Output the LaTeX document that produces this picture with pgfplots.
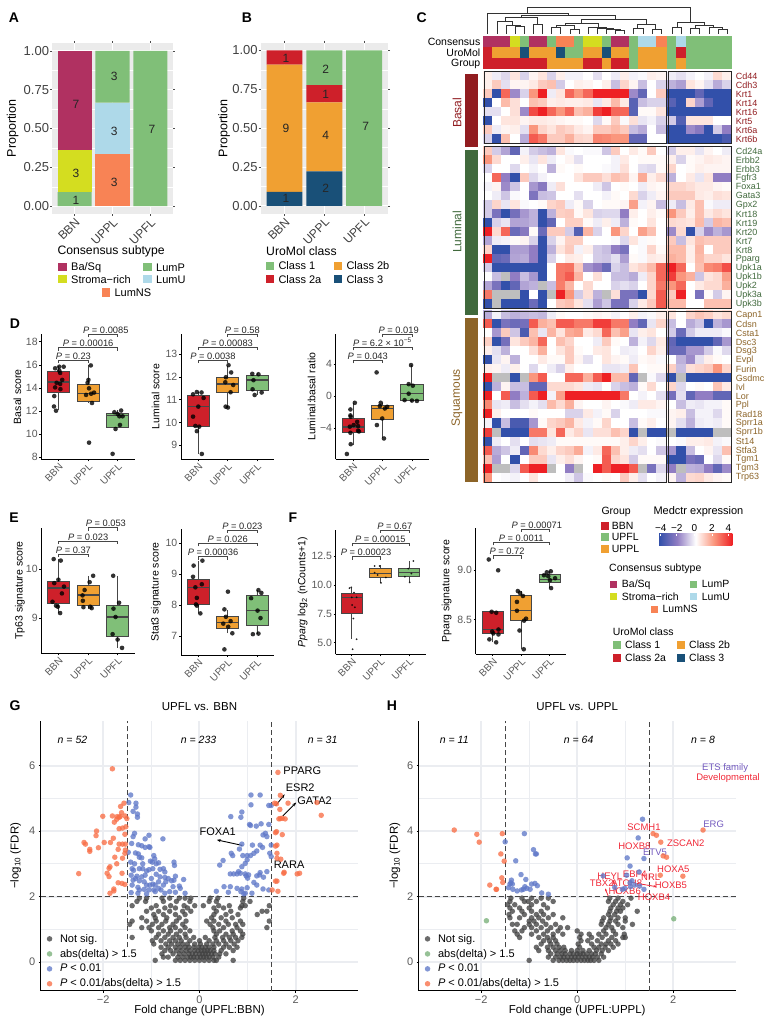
\documentclass[border=0pt]{standalone}
\usepackage{fontspec}
\setmainfont{Liberation Sans}
\usepackage{pgfplots}
\usepackage{pgfplotstable}
\pgfplotsset{compat=1.18}
\usepgfplotslibrary{statistics}
\usetikzlibrary{arrows.meta}
\newcommand\fz[1]{\fontsize{#1}{#1}\selectfont}

\definecolor{basq}{RGB}{176,49,97}
\definecolor{strm}{RGB}{212,221,32}
\definecolor{lump}{RGB}{128,191,120}
\definecolor{lumu}{RGB}{174,217,233}
\definecolor{lumns}{RGB}{248,131,85}
\definecolor{cred}{RGB}{206,32,42}
\definecolor{corg}{RGB}{240,160,50}
\definecolor{cnav}{RGB}{25,80,120}
\definecolor{dk}{RGB}{70,70,70}
\definecolor{tk}{RGB}{90,90,90}
\definecolor{gc}{RGB}{235,237,241}
\definecolor{vorg}{RGB}{248,110,70}
\definecolor{vblu}{RGB}{95,120,200}
\definecolor{vgre}{RGB}{120,175,120}
\definecolor{vgry}{RGB}{65,65,65}
\definecolor{hmb}{RGB}{50,80,170}
\definecolor{hmp}{RGB}{145,125,195}
\definecolor{hmo}{RGB}{250,150,125}
\definecolor{hmr}{RGB}{238,32,36}
\definecolor{lblB}{RGB}{145,28,32}
\definecolor{lblL}{RGB}{64,105,60}
\definecolor{lblS}{RGB}{140,100,40}
\definecolor{devr}{RGB}{240,40,55}
\definecolor{etsp}{RGB}{115,90,190}

\tikzset{vn/.style={font=\fz{10.5}\itshape,anchor=center}}
\pgfplotsset{
  colormap={hm}{[1cm] rgb255(0cm)=(50,80,170); rgb255(4cm)=(145,125,195); rgb255(8cm)=(255,255,255);
    rgb255(12cm)=(250,150,125); rgb255(16cm)=(238,32,36); rgb255(17cm)=(238,32,36); rgb255(18cm)=(190,190,190)},
  colormap={ann}{[1cm] rgb255(0cm)=(176,49,97); rgb255(1cm)=(212,221,32); rgb255(2cm)=(128,191,120);
    rgb255(3cm)=(174,217,233); rgb255(4cm)=(248,131,85); rgb255(5cm)=(206,32,42);
    rgb255(6cm)=(240,160,50); rgb255(7cm)=(25,80,120)},
  stk/.style={scale only axis,ybar stacked,bar width=.9,xmin=.4,xmax=3.6,ymin=-.05,ymax=1.05,
    xtick={1,2,3},xticklabels={BBN,UPPL,UPFL},ytick={0,.25,.5,.75,1},
    yticklabels={0.00,0.25,0.50,0.75,1.00},minor y tick num=1,
    axis background/.style={fill=black!8},axis line style={draw=none},
    grid=both,major grid style={white,line width=.9pt},minor grid style={white,line width=.5pt},
    tick style={black!70,line width=.5pt},major tick length=2pt,minor tick length=0pt,tick align=outside,
    y tick label style={font=\fz{13},text=black!75,inner sep=.8pt},
    x tick label style={font=\fz{12},text=black!75,rotate=45,anchor=north east,inner sep=1pt},
    ylabel style={font=\fz{12.5}},clip=false},
  bxp/.style={scale only axis,axis lines=left,axis line style={-,line width=.9pt},
    xmin=.41,xmax=3.58,xtick={1,2,3},xticklabels={BBN,UPPL,UPFL},
    tick style={black,line width=.7pt},major tick length=2pt,tick align=outside,
    /pgf/number format/assume math mode=true,
    y tick label style={font=\fz{10.5},text=tk,inner sep=1.5pt},
    x tick label style={font=\fz{10},text=tk,rotate=45,anchor=north east,inner sep=1pt},
    ylabel style={font=\fz{10.5}},clip=false,
    boxplot/every median/.style={line width=1.4pt}},
  heat/.style={scale only axis,width=248.2pt,xmin=0,xmax=27.18,ymin=0,y dir=reverse,
    axis line style={draw=none},xtick=\empty,major tick length=0pt,
    yticklabel pos=right,colormap name=hm,point meta min=-4,point meta max=5,clip=false,
    y tick label style={font=\fz{9},anchor=west,inner sep=0pt,xshift=4pt}},
  cellp/.style={scatter,only marks,mark=square*,mark size=4.6pt,point meta=explicit,
    scatter/use mapped color={draw=mapped color,fill=mapped color},mark options={line width=0pt}},
  vm/.style={only marks,mark=*,mark size=2.75pt,mark options={fill=#1,draw opacity=0,fill opacity=.78,line width=0pt}},
  vol/.style={scale only axis,height=269.7pt,axis lines=left,axis line style={-,line width=1.3pt},
    xmin=-3.3,xmax=3.3,ymin=-.876,ymax=7.36,xtick={-2,0,2},xticklabels={−2,0,2},ytick={0,2,4,6},
    /pgf/number format/assume math mode=true,
    grid=both,major grid style={gc,line width=2pt},minor grid style={gc,line width=1pt},minor tick num=1,
    minor tick length=0pt,major tick length=2pt,tick align=outside,tick style={black,line width=.9pt},
    tick label style={font=\fz{11},text=tk},
    title style={font=\fz{11.5},at={(.5,1)},yshift=1pt},
    xlabel style={font=\fz{11.5},at={(axis description cs:.5,-.075)},anchor=center},
    ylabel style={font=\fz{11.5}},clip=false,
    legend cell align=left,
    legend style={at={(axis description cs:.0186,.0)},anchor=south west,draw=none,fill=none,font=\fz{11},
      inner sep=0pt,row sep=1.6pt},
    legend image code/.code={\draw[##1] plot coordinates {(0.12cm,0cm)};\node[inner sep=0pt,minimum width=7.8pt,minimum height=1pt] at (3.9pt,0pt) {};}},
  dk dash/.style={dk,line width=.9pt,dash pattern=on 5pt off 3pt}
}
\newcommand\bx[7]{\addplot[boxplot prepared={draw direction=y,draw position=#1,lower whisker=#2,lower quartile=#3,median=#4,upper quartile=#5,upper whisker=#6,box extend=.75,whisker extend=0},fill=#7,draw=dk,line width=.9pt,forget plot] coordinates {};}
\newcommand\pts[1]{\addplot[only marks,mark=*,mark size=2.3pt,mark options={fill=black,draw opacity=0,fill opacity=.8,line width=0pt},forget plot] coordinates {#1};}
\newcommand\spts[1]{\addplot[only marks,mark=*,mark size=1pt,mark options={fill=black,draw opacity=0,fill opacity=.85,line width=0pt},forget plot] coordinates {#1};}
\newcommand\pbr[5]{\draw[dk,line width=.5pt] ([yshift=-3pt]axis cs:#1,#3) -- (axis cs:#1,#3) -- (axis cs:#2,#3) -- ([yshift=-3pt]axis cs:#2,#3);
  \node[anchor=south,inner sep=.6pt,font=\fz{9.3},text=black!85] at (axis cs:#4,#3) {\textit{P} = #5};}

% heat map values, columns are samples, value 5 = no data
\pgfplotstableread[header=false]{
.3 -.3 -.6 .5 -.7 .2 .5 -.7 .3 -.2 -.2 0 -.5 0 -.3 .3 -.2 -.1 .3 .2 -.3 -.5 -.2 0 -.2 .7 .3
.3 1 -.5 .2 .2 .4 1 1.2 -.8 0 .3 .2 0 .3 -1 .8 .2 -1 0 -.7 -1.2 -1.5 .5 .2 -.5 -1.3 -.7
1 -4 2.8 -1.8 -.7 2 4 -.3 .5 2.8 2 2.8 4 4 4 4 -1.8 -3 0 1 -4 -4 -4 -3 -4 -4 -4
-4 0 1.3 .6 0 1.2 1 .3 .4 .3 .3 .4 -.4 .4 1.3 .4 -3.2 -1 -.7 -.7 -3.2 -4 .8 -1.5 -3 -4 -4
-.5 -.5 0 .6 -1.8 3.3 4 2.8 2 2.8 1.2 1.5 3.5 4 2.8 2.8 -3.2 .1 .1 .5 -4 -4 -4 -4 -4 -4 -4
-4 0 .5 .5 .2 .4 .4 .3 .2 .1 .1 0 -.6 .1 1 -.1 .6 -.4 -.2 -.7 -.8 -3.3 .5 .5 .5 0 0
1 -.3 .2 .3 -.5 2 .8 .5 1 .8 .4 .2 1 1 1.3 1 -1 -1.3 0 -1 -4 -4 -1.8 -2.2 -4 -.8 -2
-.7 -4 1.2 0 -1.3 3 2.5 1 1 1.5 .8 .7 2.3 2.2 2 2 -3 -3 0 0 -4 -4 -4 -4 -4 -4 -3.5
}\hBasal
\pgfplotstableread[header=false]{
1 -.8 -1.4 -3 -.2 -.8 -1 -1.2 .5 -.1 0 -.1 -.1 -.9 1 0 .4 .1 1 0 -.8 .3 .3 -.4 .2 0 -.3
2 .7 0 0 .3 -.4 .5 -.3 0 .2 -.5 0 0 0 -.2 .4 0 .1 .1 .1 .3 -.7 .1 .2 .4 .3 .2
-.7 0 0 -.6 0 -.2 0 -1.2 .1 0 .1 0 0 -.1 -.2 .6 0 -.5 -.6 .1 .8 0 .1 .3 .2 .2 .2
0 2.8 -2 -4 1 -.6 -.2 0 0 0 .5 1 1 .6 1.2 1 .2 1.6 .3 .7 -1.2 0 .4 -.4 .5 -2 -2
-.2 .2 -1.8 -.9 0 -1.6 -2.2 -.3 .6 0 0 0 -.3 -.9 0 .1 0 -.3 .2 .1 .8 .8 .6 .4 .4 .2 .1
0 -.3 -.9 -.1 0 -2.4 -1 -.9 0 0 -.5 0 0 -.2 .1 0 .7 -.7 -.3 .2 1 1 1 .4 .3 .6 .5
-.8 .8 -.4 .5 -.1 0 .1 .8 1 -.3 .1 -.7 0 .1 .1 .2 1.8 -.2 .2 -1 -.3 -1 .4 1.2 -.1 -.3 -.3
-.8 -2.5 -4 -2.6 -1.6 -1.2 -4 -1.2 .9 1 .1 .5 -.7 -.6 -.6 -2 .3 0 .3 .1 2 1 .3 1.2 .4 .7 .5
-4 -.7 -.4 -1.4 -1.4 -1.2 -4 -3 0 .9 .9 .1 -.3 .3 -.3 -1.2 .1 0 .5 0 .7 .6 .5 1.3 -.8 1.4 1.2
4 .7 2.8 -2.8 -2.2 .1 -2.8 1 1 -.8 -3.3 1.4 -.7 0 2 .8 0 1.8 1.2 0 -1.8 .7 -4 -.7 -1.8 -1.2 -1.6
-1.4 -.3 -.2 .1 .2 -.7 -4 -.7 .2 .9 .9 0 0 0 -.1 -.6 .5 -.1 .1 0 1 -1 .5 1.2 1 1 1
.8 -4 -4 -1.5 -1.5 -2 -4 -1.2 .5 1 -.2 .3 -.8 -1 -2 -2.5 0 -.1 .8 .1 1.3 1.3 .3 1.4 0 1 1
4 -3 -2.8 -1.4 -1.3 -2 -4 -.7 0 .4 .3 0 -.8 -.9 -.5 -1.5 .1 -.1 .4 .3 1.5 1.3 .3 1.3 .8 .8 .5
-.8 -4 -4 -4 -4 -4 -4 0 2.5 2.6 1 -1.7 -2 -2.8 -.7 -1 .5 .8 1.3 2.8 4 2.8 0 1.2 2.2 2.4 3.2
0 -1 5 -2 -1 -1.6 -4 0 2.5 3 1.4 0 .6 0 -1 -1 -1.3 -.3 .8 2.8 3.5 2 1.5 -.9 .5 .7 1.8
-1.4 -2.5 -4 -3 -1.4 -1.2 5 -1 2.4 1.4 0 .7 0 0 -.7 -.5 -.7 0 .8 2.5 2 2.8 0 .4 .7 .7 1.5
2.5 5 5 5 -4 0 -4 5 4 2 -.8 .6 -1.2 5 .6 -2.5 -2.5 -4 .7 3 1 4 0 -2.5 .1 -.8 .2
-4 5 -4 -4 -4 -2.8 -4 0 1 1.2 .5 -.5 -1.5 -.9 -2.5 -2.5 -.7 .4 1 3 1.3 1.3 0 0 1.2 1.2 1.2
}\hLuminal
\pgfplotstableread[header=false]{
-1.3 -.2 -1 -1.2 -1.1 -1 -1.1 -.3 .1 0 0 .1 .2 .1 -.2 0 .3 -.2 -.1 .3 .5 0 .8 1.1 .9 .5 .7
3 -4 -2.5 -2.8 -2.6 3 1.5 1.2 3 3 2.5 2.5 3.5 3.5 2.5 2.5 -2 -3 -.4 .8 -1 0 -1.3 -.9 -4 -1.2 -1.6
0 -1.6 1 -.9 -3.5 1.2 -.4 1.4 .5 1.6 1.8 .4 .7 2.8 1.2 1.8 -.4 .3 .5 0 -.8 -2.8 -.8 -.3 -.3 -.3 -.1
.9 -4 -2.6 .5 1 1.4 2.8 0 1.2 .8 0 0 -.3 1 .1 0 -1.2 -.2 -.6 .4 -3 -4 -4 -4 -4 -3 -1.6
.3 -.5 -1.2 0 0 .6 1.5 0 .5 1 .1 0 .4 .5 0 -.3 -.2 0 .8 .3 -2.8 -2.8 -1.6 -1.6 -.8 -.1 -.6
-4 -.4 .2 -1.2 0 0 .4 .1 .1 1 .2 -.5 0 .5 .2 .1 -.3 .1 .2 -.1 0 -1.2 -1.8 -.5 .3 .1 0
.3 .2 -.3 .3 0 -.6 0 -.3 -.7 .3 0 0 0 -.4 -.4 -.3 1.1 0 .1 .1 .9 -1 .6 .8 1 2 .8
4 5 5 -4 5 2 3 0 0 2.8 2.8 1.5 3 4 1.3 1.3 -3 5 -.1 -.6 -4 5 -4 -4 -4 -4 -4
-4 -1.2 .2 -1 -1 -3 -3 .7 .7 .7 .5 -.3 -.4 0 -.7 -1 -1.2 .1 .7 0 .8 -.6 0 .1 0 1.1 .4
4 0 3 -2 -1.2 3 4 -.2 1.8 4 4 4 4 4 4 2.5 0 -.2 0 -.5 -2.6 -.5 -3 -2 -2 -3 -3
2.2 -.4 -.3 -1 -.5 -.2 -.5 1.3 .7 1.5 .2 0 0 .2 0 -.1 -.3 .4 .4 .2 0 -1 -.3 -.4 -.2 -.2 .1
4 .3 0 0 0 .1 0 0 0 -.7 -.7 .4 -.2 .1 -.7 0 0 0 -.1 -.1 .2 .3 -1 -.2 -.2 -.6 .1
-.2 -4 -1 -3.5 -3.5 -1.6 .1 .8 1 1.4 .4 -.2 .1 .8 0 0 -1 .1 .3 0 .2 -.5 -1.2 -.3 -.2 -.3 .1
3.5 5 -4 -4 -4 2.5 2.5 .5 2.8 .4 .8 -.4 .6 .6 1.2 .8 -4 5 -4 -4 5 -4 -4 -4 -4 5 5
-4 -.3 0 -.5 0 -.5 -.4 -.3 .1 .1 .1 .1 .1 .1 .1 .3 .8 .3 0 -.1 0 -.1 .3 .3 .4 -.2 -.1
3 -1.3 -.9 -.3 -3 2.2 .7 .3 .8 1 1.6 -.2 .4 2.8 1.2 .3 -.3 -.5 0 -.9 -1.6 -4 -1 0 .2 -.4 1.2
1.2 -1.5 0 -4 0 1 1 -.4 .3 .6 .2 0 .1 3 .8 .5 -.8 .1 .1 .1 -4 -4 -2.5 -2.8 0 -.6 .1
4 5 5 -.6 3 4 4 5 0 -2 5 0 4 3 4 4 3 5 -2.5 -.6 -2 5 -1.2 -1.3 -2 -3 -1.8
2 0 -.1 -.2 0 .5 0 0 0 -.3 -.9 -.1 0 .1 0 1 .3 -.5 0 -.2 .2 -1.2 .7 .8 .4 .2 .1
}\hSquamous
\pgfplotstableread[header=false]{
0 0 0 1 2 0 0 2 4 4 2 1 1 2 0 0 2 3 3 4 2 3 2 2 2 2 2
5 6 6 6 7 6 6 6 7 2 2 6 6 7 6 6 2 6 6 6 2 5 2 2 2 2 2
5 5 5 5 5 5 5 6 6 6 6 5 5 6 5 5 2 6 6 6 2 6 2 2 2 2 2
}\hAnn

\pgfdeclarehorizontalshading{hmbar}{100bp}{color(0bp)=(hmb); color(25bp)=(hmb); color(37.5bp)=(hmp); color(50bp)=(white); color(62.5bp)=(hmo); color(75bp)=(hmr); color(100bp)=(hmr)}

\begin{document}
\begin{tikzpicture}[x=1pt,y=1pt]
\useasboundingbox (0,0) rectangle (764,1030);

% ---------- A
\begin{axis}[stk,at={(52pt,816pt)},anchor=south west,width=121pt,height=171pt,
  ylabel={Proportion},ylabel style={at={(axis description cs:-.325,.5)},anchor=center}]
\addplot[fill=lumns,draw=none] coordinates {(1,0)(2,.3333)(3,0)};
\addplot[fill=lumu,draw=none] coordinates {(1,0)(2,.3333)(3,0)};
\addplot[fill=lump,draw=none] coordinates {(1,.0909)(2,.3334)(3,1)};
\addplot[fill=strm,draw=none] coordinates {(1,.2727)(2,0)(3,0)};
\addplot[fill=basq,draw=none] coordinates {(1,.6364)(2,0)(3,0)};
\end{axis}

% ---------- B
\begin{axis}[stk,at={(260.7pt,816.3pt)},anchor=south west,width=127.3pt,height=171pt,
  ylabel={Proportion},ylabel style={at={(axis description cs:-.288,.5)},anchor=center}]
\addplot[fill=cnav,draw=none] coordinates {(1,.0909)(2,.2222)(3,0)};
\addplot[fill=corg,draw=none] coordinates {(1,.8182)(2,.4444)(3,0)};
\addplot[fill=cred,draw=none] coordinates {(1,.0909)(2,.1111)(3,0)};
\addplot[fill=lump,draw=none] coordinates {(1,0)(2,.2223)(3,1)};
\end{axis}

% ---------- C annotation rows
\begin{axis}[scale only axis,at={(483.5pt,961pt)},anchor=south west,width=248.2pt,height=33pt,
  xmin=0,xmax=27.18,ymin=0,ymax=3,y dir=reverse,axis line style={draw=none},xtick=\empty,
  ytick={.5,1.5,2.5},yticklabels={Consensus,UroMol,Group},major tick length=0pt,
  y tick label style={font=\fz{10.5},inner sep=0pt,xshift=-3pt},
  colormap name=ann,point meta min=0,point meta max=7,clip=false]
\pgfplotsinvokeforeach{0,...,26}{
  \addplot[cellp] table[x expr=#1+.5+(#1>19)*.18,y expr=\coordindex+.5,meta index=#1] {\hAnn};
}
\end{axis}

% ---------- C heat blocks
\begin{axis}[heat,at={(483.5pt,886.2pt)},anchor=south west,height=72.3pt,ymax=8,
  ytick={.5,1.5,...,7.5},yticklabels={Cd44,Cdh3,Krt1,Krt14,Krt16,Krt5,Krt6a,Krt6b},
  y tick label style={text=lblB}]
\pgfplotsinvokeforeach{0,...,26}{
  \addplot[cellp] table[x expr=#1+.5+(#1>19)*.18,y expr=\coordindex+.5,meta index=#1] {\hBasal};
}
\end{axis}
\begin{axis}[heat,at={(483.5pt,721.4pt)},anchor=south west,height=162.3pt,ymax=18,
  ytick={.5,1.5,...,17.5},yticklabels={Cd24a,Erbb2,Erbb3,Fgfr3,Foxa1,Gata3,Gpx2,Krt18,Krt19,Krt20,Krt7,Krt8,Pparg,Upk1a,Upk1b,Upk2,Upk3a,Upk3b},
  y tick label style={text=lblL}]
\pgfplotsinvokeforeach{0,...,26}{
  \addplot[cellp] table[x expr=#1+.5+(#1>19)*.18,y expr=\coordindex+.5,meta index=#1] {\hLuminal};
}
\end{axis}
\begin{axis}[heat,at={(483.5pt,547.8pt)},anchor=south west,height=171.3pt,ymax=19,
  ytick={.5,1.5,...,18.5},yticklabels={Capn1,Cdsn,Csta1,Dsc3,Dsg3,Evpl,Furin,Gsdmc,Ivl,Lor,Ppl,Rad18,Sprr1a,Sprr1b,St14,Stfa3,Tgm1,Tgm3,Trp63},
  y tick label style={text=lblS}]
\pgfplotsinvokeforeach{0,...,26}{
  \addplot[cellp] table[x expr=#1+.5+(#1>19)*.18,y expr=\coordindex+.5,meta index=#1] {\hSquamous};
}
\end{axis}

% ---------- D
\begin{axis}[bxp,at={(41.3pt,570.7pt)},anchor=south west,width=93.4pt,height=125.3pt,ymin=7.83,ymax=18.67,
  ytick={8,10,...,18},ylabel={Basal score},ylabel style={at={(axis description cs:-.257,.5)},anchor=center}]
\bx{1}{12.1}{13.6}{14.5}{15.4}{15.9}{cred}
\bx{2}{12.7}{12.8}{13.5}{14.3}{16}{corg}
\bx{3}{10.5}{10.6}{11.6}{11.8}{12.1}{lump}
\pts{(.88,15.7)(1.02,15.84)(1.17,15.84)(1.02,15.5)(1.05,15.3)(1.12,14.7)(.93,14.45)(1.05,14.35)(.88,14.05)(1.06,13.9)(.85,13.3)(.84,12.4)(.91,12.03)}
\pts{(2.09,15.95)(2.01,14.7)(1.98,14.45)(2.03,13.97)(1.93,13.4)(2.1,13.5)(2.2,13.6)(2.13,12.7)(2.03,9.27)}
\pts{(2.89,11.9)(3.12,12.05)(3,11.75)(3.06,11.55)(3.17,11.55)(3.08,10.8)(2.93,10.45)(2.83,8.3)}
\pbr{1}{2}{16.4}{1.5}{0.23}\pbr{1}{3}{17.5}{2}{0.00016}\pbr{2}{3}{18.66}{2.6}{0.0085}
\end{axis}
\begin{axis}[bxp,at={(181pt,570.7pt)},anchor=south west,width=93pt,height=125.3pt,ymin=8.385,ymax=13.89,
  ytick={9,...,13},ylabel={Luminal score},ylabel style={at={(axis description cs:-.272,.5)},anchor=center}]
\bx{1}{8.62}{9.82}{10.7}{11.21}{11.35}{cred}
\bx{2}{10.63}{11.33}{11.7}{11.99}{12.5}{corg}
\bx{3}{11.2}{11.4}{11.87}{12.08}{12.16}{lump}
\pts{(.95,11.34)(1.11,11.32)(.82,11.24)(1.18,11.08)(1,10.7)(.82,10.26)(.9,9.85)(1.03,9.82)(.95,9.62)(1.12,8.62)}
\pts{(2.03,12.52)(2.12,12.2)(1.94,11.99)(1.92,11.77)(2.19,11.65)(2.1,11.33)(1.93,10.7)(2.01,10.66)}
\pts{(2.84,12.14)(3.05,12.12)(2.88,11.86)(2.85,11.46)(3.16,11.32)(2.92,11.21)}
\pbr{1}{2}{12.74}{1.5}{0.0038}\pbr{1}{3}{13.31}{2}{0.00083}\pbr{2}{3}{13.89}{2.5}{0.58}
\end{axis}
\begin{axis}[bxp,at={(335.7pt,570.7pt)},anchor=south west,width=93.3pt,height=125.3pt,ymin=-7.86,ymax=7.73,
  ytick={-4,0,4},yticklabels={−4,0,4},ylabel={Luminal:basal ratio},ylabel style={at={(axis description cs:-.257,.5)},anchor=center}]
\bx{1}{-6.1}{-4.5}{-3.82}{-2.74}{-.83}{cred}
\bx{2}{-5.27}{-2.9}{-1.54}{-1.16}{-.83}{corg}
\bx{3}{-.7}{-.58}{.33}{1.49}{3.86}{lump}
\pts{(1.06,-.83)(.91,-1.66)(.92,-2.57)(1.14,-3.2)(1.17,-3.73)(.89,-3.8)(1.17,-4.3)(.91,-4.56)(.92,-5.98)(.79,-7.2)(1.02,-3.6)(1.2,-4.4)(.91,-2.4)}
\pts{(1.8,2.95)(1.94,-.83)(1.91,-1.24)(2.16,-1.33)(2.08,-1.54)(1.99,-2.78)(1.81,-3.6)(2.05,-5.27)}
\pts{(2.97,3.86)(2.89,1.49)(3.03,1.3)(2.75,-.5)(2.89,.3)(3.17,-.6)(3,-.55)}
\pbr{1}{2}{4.44}{1.5}{0.043}
\draw[dk,line width=.5pt] ([yshift=-3pt]axis cs:1,6.06) -- (axis cs:1,6.06) -- (axis cs:3,6.06) -- ([yshift=-3pt]axis cs:3,6.06);
\node[anchor=south,inner sep=.6pt,font=\fz{9.3},text=black!85] at (axis cs:2,6.06) {\textit{P} = 6.2 × 10\textsuperscript{−5}};
\pbr{2}{3}{7.72}{2.55}{0.019}
\end{axis}

% ---------- E
\begin{axis}[bxp,at={(41.3pt,376.7pt)},anchor=south west,width=93.4pt,height=125.6pt,ymin=8.28,ymax=10.84,
  ytick={9,10},ylabel={Tp63 signature score},ylabel style={at={(axis description cs:-.228,.5)},anchor=center}]
\bx{1}{9.1}{9.3}{9.61}{9.75}{10.2}{cred}
\bx{2}{9.19}{9.25}{9.47}{9.66}{9.86}{corg}
\bx{3}{8.39}{8.62}{9.02}{9.26}{9.86}{lump}
\pts{(.83,10.2)(1.07,10.17)(.99,9.78)(.85,9.71)(1.11,9.5)(1.18,9.64)(.79,9.33)(.91,9.25)(.97,9.23)(1.05,9.1)}
\pts{(2.17,9.86)(2.05,9.73)(1.88,9.57)(1.81,9.46)(1.82,9.35)(2.07,9.23)(1.84,9.22)(2.12,9.2)}
\pts{(2.85,9.86)(3.05,9.31)(2.86,9.19)(2.93,9.02)(2.83,8.67)(3,8.56)(3.15,8.39)}
\pbr{1}{2}{10.3}{1.5}{0.37}\pbr{1}{3}{10.57}{2}{0.023}\pbr{2}{3}{10.84}{2.6}{0.053}
\end{axis}
\begin{axis}[bxp,at={(181pt,375pt)},anchor=south west,width=93pt,height=125.7pt,ymin=6.39,ymax=10.44,
  ytick={7,...,10},ylabel={Stat3 signature score},ylabel style={at={(axis description cs:-.269,.5)},anchor=center}]
\bx{1}{7.73}{8.03}{8.57}{8.82}{9.43}{cred}
\bx{2}{7.09}{7.24}{7.44}{7.62}{7.84}{corg}
\bx{3}{7.06}{7.33}{7.82}{8.31}{8.48}{lump}
\pts{(1.14,9.43)(.84,9.27)(.82,8.91)(.9,8.57)(1.12,8.67)(.95,8.23)(.92,8.02)(.95,7.98)(1.07,7.73)}
\pts{(2.01,8.43)(1.89,7.86)(1.94,7.62)(2.1,7.48)(1.85,7.4)(2.02,7.3)(2.16,7.09)(1.89,6.57)}
\pts{(3.05,8.48)(3.15,8.39)(2.8,8.22)(3.02,7.82)(3.12,7.58)(2.86,7.06)(3.05,7.08)}
\pbr{1}{2}{9.56}{1.5}{0.00036}\pbr{1}{3}{9.99}{2}{0.026}\pbr{2}{3}{10.42}{2.5}{0.023}
\end{axis}

% ---------- F
\begin{axis}[bxp,at={(335.7pt,375.7pt)},anchor=south west,width=90pt,height=124.3pt,xmin=.44,xmax=3.58,ymin=3.99,ymax=14.79,
  ytick={5,7.5,10,12.5},yticklabels={5.0,7.5,10.0,12.5},
  ylabel={\textit{Pparg} log\textsubscript{2} (nCounts+1)},ylabel style={at={(axis description cs:-.367,.5)},anchor=center}]
\bx{1}{5.3}{7.55}{8.91}{9.26}{9.74}{cred}
\bx{2}{10.2}{10.65}{11.02}{11.43}{11.72}{corg}
\bx{3}{10.24}{10.79}{11.08}{11.43}{12.12}{lump}
\spts{(.92,9.74)(.98,9.8)(1.08,9.35)(1,8.94)(1.17,8.94)(1.01,8.27)(1.11,8.07)(1.06,7.1)(1.17,5.3)(1.03,4.43)}
\spts{(1.8,11.66)(1.97,11.66)(1.8,11.08)(2.02,10.2)(2.19,10.67)(1.9,10.88)}
\spts{(3.15,12.09)(2.97,11.43)(2.85,10.73)(3.02,10.24)(3.08,11)}
\pbr{1}{2}{12.47}{1.5}{0.00023}\pbr{1}{3}{13.63}{2}{0.00015}\pbr{2}{3}{14.79}{2.5}{0.67}
\end{axis}
\begin{axis}[bxp,at={(475.7pt,376pt)},anchor=south west,width=90.6pt,height=125.7pt,xmin=.4,xmax=3.585,ymin=8.152,ymax=9.426,
  ytick={8.5,9},yticklabels={8.5,9.0},ylabel={Pparg signature score},ylabel style={at={(axis description cs:-.32,.5)},anchor=center}]
\bx{1}{8.27}{8.36}{8.4}{8.58}{8.58}{cred}
\bx{2}{8.2}{8.49}{8.59}{8.75}{8.79}{corg}
\bx{3}{8.82}{8.875}{8.91}{8.96}{8.99}{lump}
\pts{(.86,9.11)(1.19,9)(.96,8.58)(1.12,8.57)(.98,8.38)(1.2,8.4)(.88,8.3)(1.2,8.35)(1.12,8.27)(1.02,8.36)}
\pts{(1.88,8.79)(1.96,8.77)(2.06,8.74)(1.85,8.68)(1.85,8.59)(2.17,8.51)(2.1,8.49)(1.94,8.39)(2.09,8.2)}
\pts{(3.04,8.99)(2.9,8.98)(2.8,8.95)(2.95,8.94)(3.19,8.92)(3.01,8.9)(3.05,8.82)}
\pbr{1}{2}{9.149}{1.5}{0.72}\pbr{1}{3}{9.284}{2}{0.0011}\pbr{2}{3}{9.419}{2.55}{0.00071}
\end{axis}

% ---------- G
\begin{axis}[vol,at={(40.7pt,39.3pt)},anchor=south west,width=317.6pt,
  title={UPFL vs. BBN},xlabel={Fold change (UPFL:BBN)},
  ylabel={−log\textsubscript{10} (FDR)},ylabel style={at={(axis description cs:-.079,.5)},anchor=center}]
\addlegendimage{vm=vgry}
\addlegendentry{Not sig.}
\addlegendimage{vm=vgre}
\addlegendentry{abs(delta) > 1.5}
\addlegendimage{vm=vblu}
\addlegendentry{\textit{P} < 0.01}
\addlegendimage{vm=vorg}
\addlegendentry{\textit{P} < 0.01/abs(delta) > 1.5}
\addplot[vm=vgry,forget plot] coordinates {
(-.92,.05)(-.5,.05)(-.4,.05)(-.3,.05)(-.2,.05)(-.1,.05)(0,.05)(.1,.05)(.2,.05)(.3,.05)(.35,.05)(.7,.05)
(-.75,.15)(-.65,.15)(-.45,.15)(-.35,.15)(-.25,.15)(-.18,.15)(-.12,.15)(-.05,.15)(.02,.15)(.08,.15)(.14,.15)(.2,.15)(.28,.15)(.4,.15)
(-.78,.25)(-.55,.25)(-.42,.25)(-.32,.25)(-.22,.25)(-.15,.25)(-.08,.25)(0,.25)(.06,.25)(.12,.25)(.18,.25)(.25,.25)(.32,.25)(.42,.25)(.55,.25)
(-.72,.35)(-.6,.35)(-.48,.35)(-.38,.35)(-.28,.35)(-.2,.35)(-.1,.35)(-.03,.35)(.04,.35)(.1,.35)(.16,.35)(.22,.35)(.3,.35)(.45,.35)(.7,.35)
(-.8,.45)(-.65,.45)(-.5,.45)(-.4,.45)(-.3,.45)(-.22,.45)(-.12,.45)(-.02,.45)(.05,.45)(.12,.45)(.2,.45)(.3,.45)(.5,.45)(.62,.45)(.78,.45)
(-.95,.55)(-.7,.55)(-.58,.55)(-.45,.55)(-.35,.55)(-.25,.55)(-.1,.55)(.02,.55)(.15,.55)(.28,.55)(.4,.55)(.55,.55)(.72,.55)
(-.98,.65)(-.8,.65)(-.62,.65)(-.5,.65)(-.38,.65)(-.2,.65)(0,.65)(.2,.65)(.35,.65)(.5,.65)(.65,.65)(.8,.65)
(-1.4,.75)(-.9,.75)(-.72,.75)(-.55,.75)(-.42,.75)(-.28,.75)(-.12,.75)(.12,.75)(.32,.75)(.48,.75)(.62,.75)(.75,.75)(.88,.75)
(-.85,.85)(-.65,.85)(-.48,.85)(-.3,.85)(.35,.85)(.55,.85)(.7,.85)(.9,.85)
(-1,.95)(-.75,.95)(-.6,.95)(-.4,.95)(-.2,.95)(.3,.95)(.42,.95)(.68,.95)(.85,.95)
(-1.2,1.05)(-1.05,1.05)(-.85,1.05)(-.62,1.05)(-.5,1.05)(-.3,1.05)(.28,1.05)(.5,1.05)(.78,1.05)(1.4,1.05)
(-1.45,1.15)(-.98,1.15)(-.78,1.15)(-.55,1.15)(-.35,1.15)(.22,1.15)(.4,1.15)(.6,1.15)(.75,1.15)(.9,1.15)
(-1.4,1.25)(-1.1,1.25)(-.9,1.25)(-.7,1.25)(-.48,1.25)(-.28,1.25)(.15,1.25)(.3,1.25)(.55,1.25)(.85,1.25)(1.45,1.25)
(-1.2,1.35)(-.92,1.35)(-.68,1.35)(-.42,1.35)(.25,1.35)(.45,1.35)(.68,1.35)
(-.95,1.45)(-.75,1.45)(-.5,1.45)(-.3,1.45)(.3,1.45)(.55,1.45)(.8,1.45)(1.2,1.45)
(-1.1,1.55)(-.85,1.55)(-.62,1.55)(-.35,1.55)(-.18,1.55)(.35,1.55)(.65,1.55)(1.3,1.55)(1.4,1.55)
(-1,1.65)(-.72,1.65)(-.5,1.65)(-.25,1.65)(.3,1.65)(.5,1.65)(.85,1.65)
(-1.4,1.72)(-.9,1.72)(-.6,1.72)(-.32,1.72)(-.1,1.72)(.08,1.72)(.4,1.72)(.62,1.72)(.88,1.72)(.95,1.72)(1.45,1.72)
(-1.3,1.85)(-1.12,1.85)(-.75,1.85)(-.48,1.85)(-.2,1.85)(.2,1.85)(.35,1.85)(.9,1.85)(1.05,1.85)
(-1.25,1.95)(-1.1,1.95)(-.78,1.95)(-.62,1.95)(-.42,1.95)(-.3,1.95)(-.18,1.95)(.22,1.95)(.38,1.95)(.92,1.95)};
\addplot[vm=vblu,forget plot] coordinates {
(-1.43,5.1)(-1.47,4.87)(-1.32,4.85)(-1.32,4.73)(-1.38,4.6)(-1.29,4.52)(-1.29,4.42)(-1.35,3.93)(-1.38,3.83)(-1.05,3.87)(-1.13,3.76)(-.76,3.76)
(-1.41,3.62)(-1.27,3.58)(-1.2,3.55)(-1.13,3.5)(-1.05,3.52)(-1.03,3.5)(-1.48,3.35)(-1.33,3.33)(-1.27,3.3)(-1.25,3.2)(-1.2,3.18)(-.95,3.25)(-.93,3.15)
(-1.43,3.05)(-1.35,3)(-1.18,3)(-1.02,3.08)(-.98,3.05)(-.9,3)(-.85,3.03)(-.53,3.05)(-.52,2.95)
(-1.4,2.85)(-1.37,2.8)(-1.25,2.85)(-1.18,2.85)(-1.1,2.78)(-1.05,2.82)(-.97,2.85)(-.82,2.83)(-.75,2.85)(-.72,2.75)
(-1.42,2.65)(-1.3,2.62)(-1.2,2.6)(-1.13,2.65)(-1,2.55)(-.9,2.68)(-.82,2.6)(-.72,2.58)(-.65,2.55)(-.53,2.5)(-.5,2.62)
(-1.38,2.5)(-1.33,2.55)(-1.25,2.48)(-1.15,2.45)(-.85,2.45)(-.7,2.45)(-.58,2.48)(-.33,2.52)
(-1.4,2.35)(-1.28,2.28)(-1.1,2.35)(-1.03,2.35)(-.97,2.38)(-.92,2.35)(-.75,2.35)(-.55,2.3)(-.42,2.32)(-.4,2.25)
(-1.42,2.12)(-1.25,2.2)(-1.15,2.22)(-1.05,2.2)(-.95,2.2)(-.92,2.15)(-.85,2.25)(-.8,2.2)(-.72,2.1)(-.62,2.15)(-.5,2.13)(-.3,2.1)(-1.28,2.1)(-1.1,2.08)
(1.07,5.1)(1.26,5.1)(1.07,4.8)(1.44,4.78)(1.49,4.78)(.88,4.58)(.65,4.44)(.86,4.42)(1.04,4.2)(1.06,4.17)(1.18,4.15)(1.28,4.22)(1.44,4.2)
(1.37,3.93)(1.32,3.88)(1.4,3.83)(.88,3.6)(1.1,3.57)(.83,3.45)(1.26,3.57)(1.31,3.5)(1.49,3.57)(1.19,3.39)(1.13,3.32)(1.06,3.25)(.99,3.25)(.9,3.25)
(1.46,3.32)(1.49,3.22)(.66,3.32)(.69,3.25)(.49,3.1)(.42,2.96)(.99,3.12)(.95,3.01)(.88,2.91)(.81,2.76)(.64,2.69)(.71,2.69)(.78,2.69)(.85,2.71)(.95,2.69)
(1.02,2.66)(.97,2.63)(1,2.56)(1.4,2.76)(1.26,2.73)(1.19,2.63)(1.25,2.66)(1.33,2.59)(1.13,2.43)(1.19,2.35)(.51,2.3)(.64,2.3)(.78,2.25)(.88,2.23)(.99,2.27)
(.35,2.16)(.6,2.13)(.86,2.15)(.92,2.08)(.95,2.1)(1.32,2.23)(1.44,2.2)(1.09,2.1)};
\addplot[vm=vorg,forget plot] coordinates {
(-1.81,5.9)(-1.57,4.85)(-1.64,4.75)(-2.01,4.45)(-1.81,4.46)(-1.62,4.56)(-1.55,4.46)(-1.51,4.38)(-1.71,4.44)(-1.67,4.42)(-1.65,4.44)(-1.72,4.36)(-1.77,4.27)
(-1.53,4.13)(-1.67,4.07)(-1.6,4.09)(-2.14,4)(-1.55,3.9)(-2.15,3.86)(-1.79,3.78)(-2.4,3.65)(-2.37,3.6)(-1.98,3.65)(-1.85,3.65)(-1.67,3.6)(-1.6,3.6)(-1.54,3.6)
(-2.1,3.49)(-2.28,3.44)(-2.28,3.38)(-1.69,3.44)(-1.54,3.42)(-1.55,3.32)(-1.76,3.2)(-1.6,3.17)(-1.72,3)(-1.86,2.91)(-1.88,2.86)(-1.92,2.71)(-2.51,2.7)(-1.88,2.61)
(-1.61,2.71)(-1.69,2.42)(-1.61,2.4)(-1.55,2.37)(-1.78,2.23)(-1.78,2.17)(-1.86,2.1)
(1.63,5.79)(1.68,5.09)(1.56,4.85)(1.6,4.83)(1.84,4.85)(2.44,4.87)(1.67,4.66)(2.53,4.48)(1.65,4.37)(1.68,4.38)(1.72,4.39)(1.78,4.37)(1.6,3.98)(1.58,3.95)(1.72,3.89)
(1.61,3.57)(1.58,3.54)(1.61,3.32)(1.69,3.14)(1.61,3.17)(1.76,2.74)(1.75,2.71)(2.03,2.69)(2.08,2.71)(1.58,2.47)(1.61,2.47)(1.51,2.2)(1.63,2.16)};
\addplot[dk dash,forget plot] coordinates {(-3.3,2)(3.3,2)};
\addplot[dk dash,forget plot] coordinates {(-1.5,.45)(-1.5,7.36)};
\addplot[dk dash,forget plot] coordinates {(1.5,-.876)(1.5,7.36)};
\node[vn] at (axis cs:-2.64,6.78) {n = 52};
\node[vn] at (axis cs:-.02,6.78) {n = 233};
\node[vn] at (axis cs:2.56,6.78) {n = 31};
\draw[-{Stealth[length=4pt]},line width=.9pt] (axis cs:1.58,4.77) -- (axis cs:1.77,5.12);
\draw[-{Stealth[length=4pt]},line width=.9pt] (axis cs:1.73,4.46) -- (axis cs:2.01,4.87);
\draw[-{Stealth[length=4pt]},line width=.9pt] (axis cs:.89,3.56) -- (axis cs:.36,3.73);
\node[anchor=west,inner sep=0pt,font=\fz{11}] at (axis cs:1.74,5.84) {PPARG};
\node[anchor=west,inner sep=0pt,font=\fz{11}] at (axis cs:1.79,5.32) {ESR2};
\node[anchor=west,inner sep=0pt,font=\fz{11}] at (axis cs:2.03,4.93) {GATA2};
\node[anchor=west,inner sep=0pt,font=\fz{11}] at (axis cs:0,3.98) {FOXA1};
\node[anchor=west,inner sep=0pt,font=\fz{11}] at (axis cs:1.54,2.96) {RARA};
\end{axis}

% ---------- H
\begin{axis}[vol,at={(418.7pt,39.3pt)},anchor=south west,width=317pt,
  title={UPFL vs. UPPL},xlabel={Fold change (UPFL:UPPL)},
  ylabel={−log\textsubscript{10} (FDR)},ylabel style={at={(axis description cs:-.075,.5)},anchor=center}]
\addlegendimage{vm=vgry}
\addlegendentry{Not sig.}
\addlegendimage{vm=vgre}
\addlegendentry{abs(delta) > 1.5}
\addlegendimage{vm=vblu}
\addlegendentry{\textit{P} < 0.01}
\addlegendimage{vm=vorg}
\addlegendentry{\textit{P} < 0.01/abs(delta) > 1.5}
\addplot[vm=vgry,forget plot] coordinates {
(-1,.05)(-.5,.05)(-.38,.05)(-.3,.05)(-.22,.05)(-.15,.05)(-.08,.05)(0,.05)(.08,.05)(.15,.05)(.22,.05)(.28,.05)(.35,.05)(.45,.05)
(-.6,.15)(-.45,.15)(-.35,.15)(-.28,.15)(-.2,.15)(-.12,.15)(-.05,.15)(.02,.15)(.1,.15)(.18,.15)(.25,.15)(.32,.15)(.42,.15)(.55,.15)
(-.55,.25)(-.42,.25)(-.32,.25)(-.25,.25)(-.15,.25)(-.08,.25)(0,.25)(.06,.25)(.12,.25)(.2,.25)(.3,.25)(.38,.25)(.5,.25)
(-.8,.35)(-.6,.35)(-.45,.35)(-.35,.35)(-.25,.35)(-.12,.35)(0,.35)(.12,.35)(.25,.35)(.4,.35)(.52,.35)(.65,.35)
(-.85,.45)(-.62,.45)(-.5,.45)(-.38,.45)(-.28,.45)(.05,.45)(.35,.45)(.45,.45)(.58,.45)(.75,.45)
(-.75,.55)(-.55,.55)(-.42,.55)(.02,.55)(.3,.55)(.5,.55)(.6,.55)(.7,.55)(.85,.55)
(-.7,.65)(-.58,.65)(-.45,.65)(.08,.65)(.22,.65)(.42,.65)(.65,.65)(.8,.65)
(-1.2,.75)(-.8,.75)(-.62,.75)(-.5,.75)(.05,.75)(.3,.75)(.52,.75)(.72,.75)(.95,.75)(1,.75)
(-1.25,.85)(-.95,.85)(-.7,.85)(-.5,.85)(-.3,.85)(.08,.85)(.25,.85)(.45,.85)(.6,.85)(.8,.85)(.98,.85)
(-1.3,.95)(-1.15,.95)(-.85,.95)(-.62,.95)(-.4,.95)(0,.95)(.55,.95)(.75,.95)
(-1.1,1.05)(-.95,1.05)(-.75,1.05)(-.55,1.05)(-.35,1.05)(-.2,1.05)(.6,1.05)(.72,1.05)(.95,1.05)
(-1.35,1.15)(-1.25,1.15)(-1,1.15)(-.85,1.15)(-.65,1.15)(-.45,1.15)(.5,1.15)(.65,1.15)(.85,1.15)(1.15,1.15)
(-1,1.25)(-.9,1.25)(-.72,1.25)(.52,1.25)(.68,1.25)(.8,1.25)(1,1.25)
(-1.4,1.35)(-1.2,1.35)(-.95,1.35)(-.8,1.35)(-.6,1.35)(-.3,1.35)(.55,1.35)(.7,1.35)(.85,1.35)(1,1.35)
(-1.42,1.45)(-1.1,1.45)(-.85,1.45)(-.7,1.45)(-.5,1.45)(.65,1.45)(.78,1.45)
(-1.35,1.55)(-1.15,1.55)(-.95,1.55)(-.75,1.55)(.68,1.55)(.82,1.55)(.9,1.55)(1.25,1.55)
(-1.4,1.65)(-1.2,1.65)(-1,1.65)(-.62,1.65)(.7,1.65)(.85,1.65)(.95,1.65)
(-1.45,1.75)(-1.3,1.75)(-.95,1.75)(-.7,1.75)(.75,1.75)(.9,1.75)(1.05,1.75)
(-1.4,1.85)(-1.1,1.85)(-1.02,1.85)(-.85,1.85)(-.5,1.85)(.65,1.85)(.8,1.85)(.95,1.85)
(-1.38,1.95)(-1.15,1.95)(-.95,1.95)(-.75,1.95)(-.6,1.95)(.68,1.95)(.85,1.95)(1.12,1.95)};
\addplot[vm=vgre,forget plot] coordinates {(-1.89,1.26)(2.01,1.32)};
\addplot[vm=vblu,forget plot] coordinates {
(1.36,4.36)(1.27,3.79)(1.39,3.16)(1.04,3.18)(1.1,2.93)(1.29,2.75)(1.03,2.65)(1.14,2.48)(1.1,2.42)(1.2,2.35)(1.3,2.32)(1.39,2.22)(.94,2.22)(.78,2.28)(.54,2.63)(.99,2.25)(1.11,2.3)
(-1.1,3.92)(-1.5,3.67)(-.91,3.43)(-.87,3.3)(-.85,3.3)(-1.28,3.09)(-1.17,2.67)(-1.07,2.52)(-1.37,2.5)(-1.38,2.42)(-1.35,2.38)(-1.4,2.38)(-1.43,2.27)(-1.34,2.22)(-1.25,2.17)
(-1.12,2.22)(-1.09,2.3)(-1.05,2.25)(-.98,2.22)(-.95,2.38)(-.88,2.4)(-.83,2.33)(-1.16,2.2)(-.74,2.11)(-.6,2.07)};
\addplot[vm=vorg,forget plot] coordinates {
(-2.56,4.03)(-2.09,3.9)(-2.04,3.66)(-1.56,3.92)(-1.59,3.3)(-1.52,3.08)(-1.57,2.57)(-1.55,2.43)(-1.82,2.35)(-1.69,2.22)(-1.68,2.22)
(2.62,4.03)(1.58,3.92)(1.65,3.87)(1.74,3.66)(1.79,3.24)(1.86,3.2)(1.73,2.65)(2.2,2.62)};
\addplot[dk dash,forget plot] coordinates {(-3.3,2)(3.3,2)};
\addplot[dk dash,forget plot] coordinates {(-1.5,.45)(-1.5,7.36)};
\addplot[dk dash,forget plot] coordinates {(1.5,-.876)(1.5,7.36)};
\node[vn] at (axis cs:-2.56,6.78) {n = 11};
\node[vn] at (axis cs:.03,6.78) {n = 64};
\node[vn] at (axis cs:2.62,6.78) {n = 8};
\draw[devr,line width=.8pt,-{Stealth[length=3pt]}] (axis cs:.65,2) -- (axis cs:.58,2.25);
\draw[devr,line width=.8pt,-{Stealth[length=3pt]}] (axis cs:.82,2.1) -- (axis cs:.75,2.5);
\draw[devr,line width=.8pt,-{Stealth[length=3pt]}] (axis cs:1.25,2.4) -- (axis cs:1.65,2.3);
\foreach \xx/\yy/\tt in {1.39/4.13/SCMH1,2.26/3.63/ZSCAN2,1.19/3.53/HOXB8,2/2.84/HOXA5,1.2/2.68/EBF4,1.53/2.59/NRL,.68/2.63/HEYL,.51/2.4/TBX2,1.03/2.4/ATOH8,1.95/2.33/HOXB5,.99/2.17/HOXB6,1.6/1.97/HOXB4,3.14/5.61/Developmental}{
  \edef\tmp{\noexpand\node[font=\noexpand\fz{9.5},text=devr,inner sep=0pt] at (axis cs:\xx,\yy) {\tt};}\tmp}
\foreach \xx/\yy/\tt in {1.62/3.35/ETV5,2.84/4.22/ERG,3.08/5.93/ETS family}{
  \edef\tmp{\noexpand\node[font=\noexpand\fz{9.5},text=etsp,inner sep=0pt] at (axis cs:\xx,\yy) {\tt};}\tmp}
\end{axis}

% ---------- pixel-placed decoration
\begin{scope}[shift={(0,1030)},y=-1pt]
% panel letters
\foreach \xx/\yy/\tt in {14/18/A,247/18/B,421.7/18/C,15/324/D,14/518/E,293/518/F,15/706/G,392/706/H}{
  \node[font=\fz{14}\bfseries,inner sep=0pt] at (\xx,\yy) {\tt};}

% counts in stacked bars
\foreach \xx/\yy/\nn in {76/200.7/1,76/173/3,76/104/7,114.3/182.7/3,114.3/131/3,114.3/76/3,152/129/7,
  286/198.3/1,286/128.3/9,286/58.3/1,325.7/188.3/2,325.7/135/4,325.7/94/1,325.7/69.3/2,365.7/126/7}{
  \node[font=\fz{12},text=black!85,inner sep=0pt] at (\xx,\yy) {\nn};}

% legend A
\node[anchor=west,inner sep=0pt,font=\fz{12.2}] at (57.3,251.7) {Consensus subtype};
\foreach \xx/\yy/\cc/\tt in {58.3/267.3/basq/{Ba/Sq},58.3/279.3/strm/Stroma−rich,143.3/267.3/lump/LumP,143.3/279.3/lumu/LumU,101.7/292.7/lumns/LumNS}{
  \fill[\cc] (\xx,\yy-4.2) rectangle +(8.3,8.4);
  \node[anchor=west,inner sep=0pt,font=\fz{11}] at (\xx+12.7,\yy) {\tt};}
% legend B
\node[anchor=west,inner sep=0pt,font=\fz{12.2}] at (266,250.7) {UroMol class};
\foreach \xx/\yy/\cc/\tt in {266/266/lump/Class 1,266/279.3/cred/Class 2a,334/266/corg/Class 2b,334/279.3/cnav/Class 3}{
  \fill[\cc] (\xx,\yy-4.2) rectangle +(8.3,8.4);
  \node[anchor=west,inner sep=0pt,font=\fz{11}] at (\xx+12.3,\yy) {\tt};}

% dendrogram
\begin{scope}[draw=black!80,line width=.9pt]
\newcommand\dn[5]{\draw (#1,#4) |- (#2,#3) -- (#2,#5);}
\dn{527.7}{690}{7.7}{13.3}{22.7}
\dn{487.9}{568.3}{13.3}{34}{15}
\dn{521}{615}{15}{17.3}{19.3}
\dn{505}{537.3}{17.3}{21}{24}
\dn{533.5}{542.7}{24}{34}{34}
\dn{497}{512.7}{21}{34}{25}
\dn{506.2}{520}{25}{34}{26}
\dn{515.3}{524.4}{26}{34}{34}
\dn{581.7}{646.7}{19.3}{23.3}{24.3}
\dn{565}{598}{23.3}{25}{27}
\dn{556.3}{574.6}{25}{27}{29}
\dn{551.8}{560.9}{27}{34}{34}
\dn{570}{579.2}{29}{34}{34}
\dn{588.3}{606}{27}{34}{28}
\dn{597.4}{613}{28}{34}{29}
\dn{606.6}{620}{29}{34}{30}
\dn{615.7}{624.8}{30}{34}{34}
\dn{637.7}{655.7}{24.3}{28}{29}
\dn{633.9}{643}{28}{34}{34}
\dn{652.2}{661.3}{29}{34}{34}
\dn{677}{704}{22.7}{27.3}{25}
\dn{672.6}{681.7}{27.3}{34}{34}
\dn{695.4}{713}{25}{28}{27.5}
\dn{690.8}{699.9}{28}{34}{34}
\dn{709}{722.6}{27.5}{34}{29.5}
\dn{718.1}{727.2}{29.5}{34}{34}
\end{scope}

% heat frames and side bars
\foreach \ya/\yb in {71.3/143.7,146.3/308.7,311/482.3}{
  \draw[black!85,line width=.8pt] (484,\ya) rectangle (666.7,\yb);
  \draw[black!85,line width=.8pt] (668,\ya) rectangle (731.7,\yb);}
\fill[lblB] (465.3,74) rectangle (478,147);
\fill[lblL] (465.3,149.7) rectangle (478,315.3);
\fill[lblS] (465.3,317.7) rectangle (478,482.3);
\node[rotate=90,text=lblB,font=\fz{12}] at (457,113) {Basal};
\node[rotate=90,text=lblL,font=\fz{12}] at (457,232) {Luminal};
\node[rotate=90,text=lblS,font=\fz{12}] at (457,398) {Squamous};

% right legends
\node[anchor=west,inner sep=0pt,font=\fz{10.5}] at (601.3,512) {Group};
\foreach \yy/\cc/\tt in {526/cred/BBN,537.3/lump/UPFL,548.7/corg/UPPL}{
  \fill[\cc] (601.3,\yy-4) rectangle +(8,8);
  \node[anchor=west,inner sep=0pt,font=\fz{10.5}] at (611.7,\yy) {\tt};}
\node[anchor=west,inner sep=0pt,font=\fz{11}] at (653.3,511.7) {Medctr expression};
\shade[shading=hmbar] (659,534) rectangle (732.3,545.7);
\foreach \xx/\tt in {660.7/−4,676.7/−2,694.3/0,712/2,728.3/4}{
  \node[font=\fz{10},inner sep=0pt] at (\xx,528) {\tt};
  \draw[white,line width=.5pt] (\xx,534) -- (\xx,536);}
\node[anchor=west,inner sep=0pt,font=\fz{10.5}] at (609,569) {Consensus subtype};
\foreach \xx/\yy/\cc/\tt in {610/584.3/basq/{Ba/Sq},610/596.7/strm/Stroma−rich,690/584.3/lump/LumP,690/596.7/lumu/LumU,650.7/609.3/lumns/LumNS}{
  \fill[\cc] (\xx,\yy-3.5) rectangle +(7,7);
  \node[anchor=west,inner sep=0pt,font=\fz{10.5}] at (\xx+11.7,\yy) {\tt};}
\node[anchor=west,inner sep=0pt,font=\fz{10.5}] at (612.7,631.3) {UroMol class};
\foreach \xx/\yy/\cc/\tt in {612.7/645/lump/Class 1,612.7/657.7/cred/Class 2a,676.7/645/corg/Class 2b,676.7/657.7/cnav/Class 3}{
  \fill[\cc] (\xx,\yy-4) rectangle +(8,8);
  \node[anchor=west,inner sep=0pt,font=\fz{10.5}] at (\xx+12.3,\yy) {\tt};}
\end{scope}
\end{tikzpicture}
\end{document}
